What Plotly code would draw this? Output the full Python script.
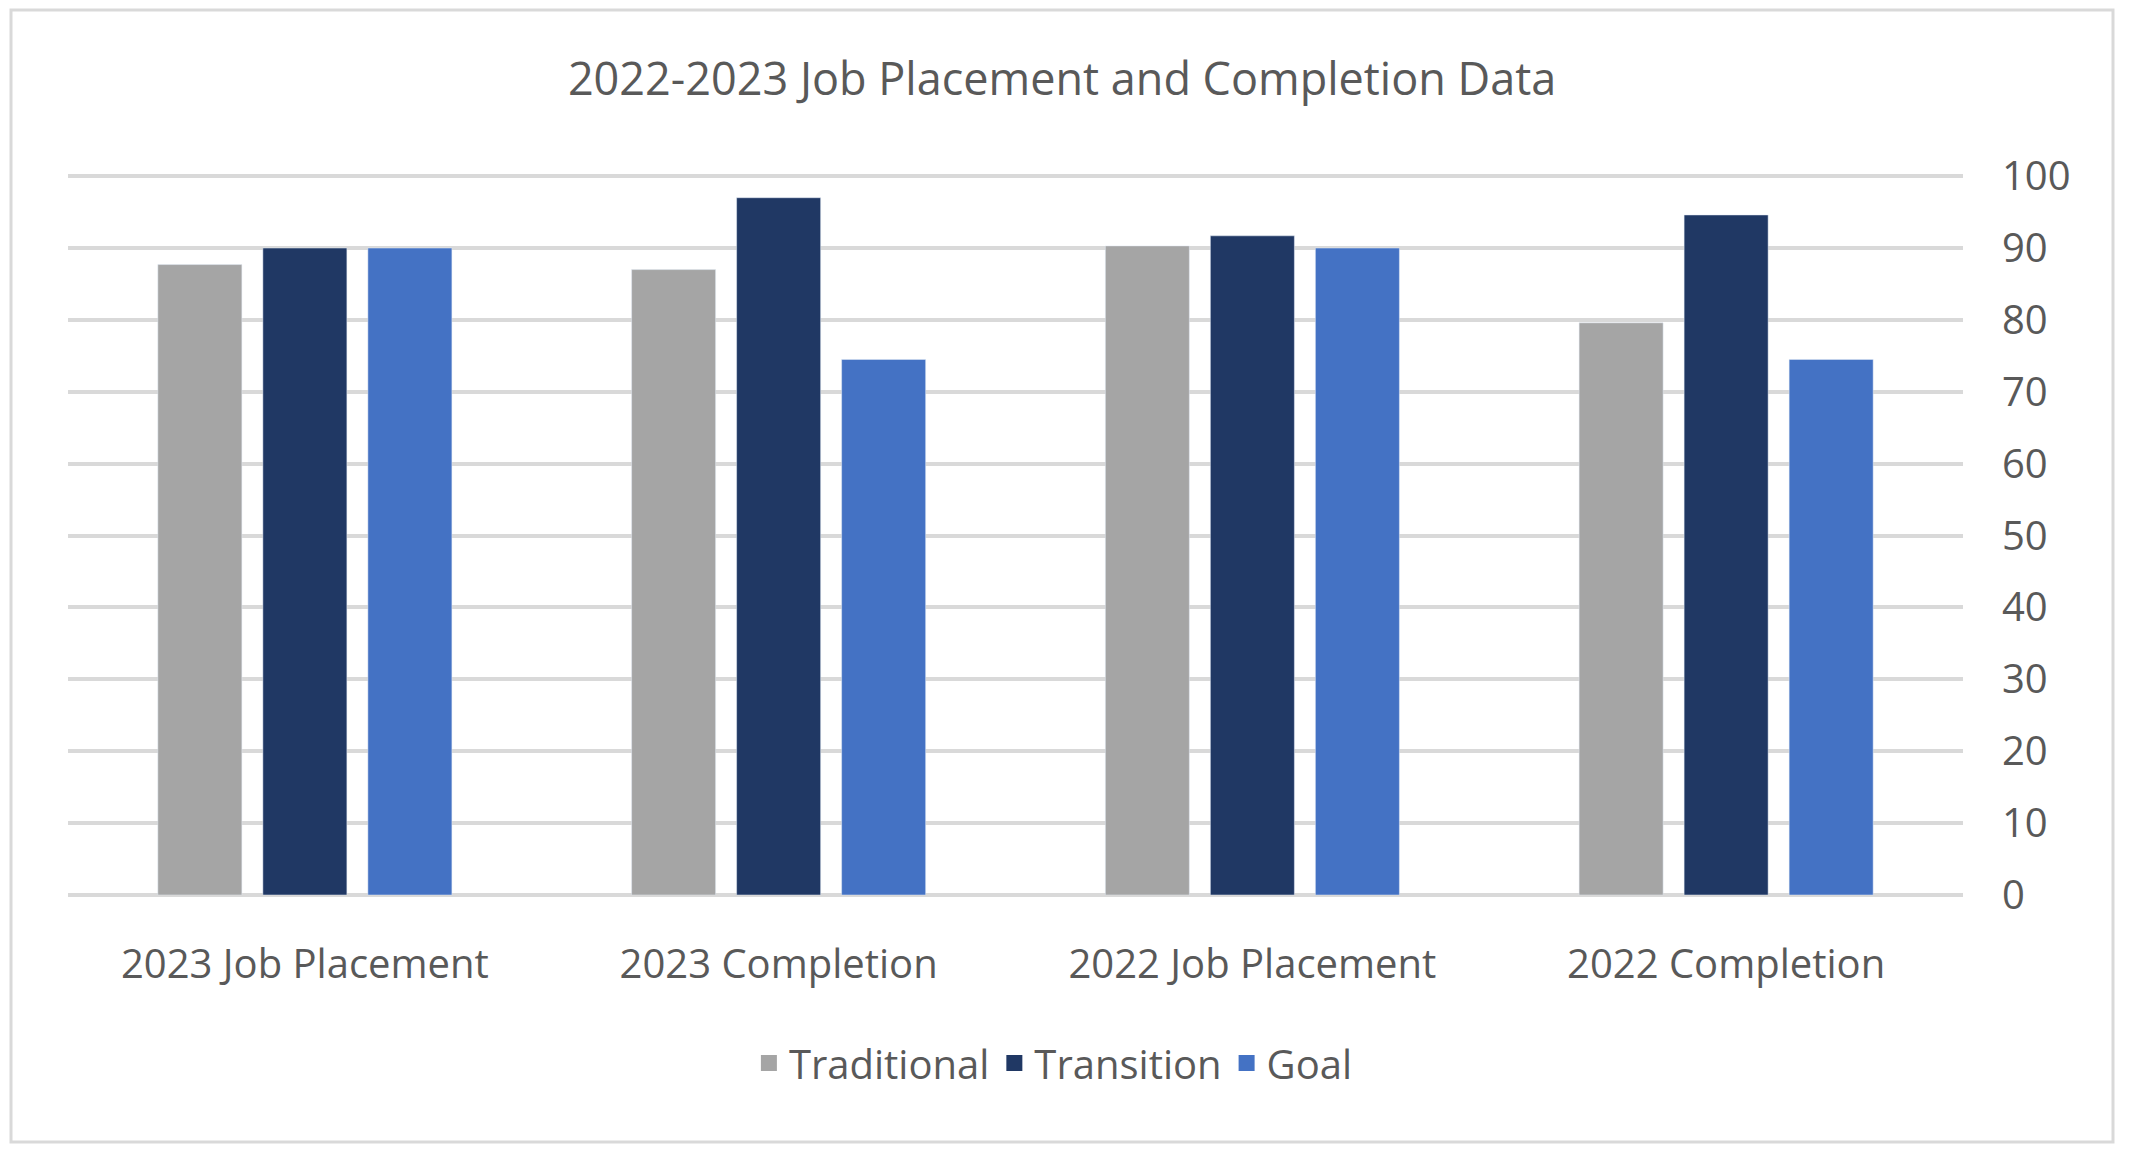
import plotly.graph_objects as go

categories = ["2023 Job Placement", "2023 Completion", "2022 Job Placement", "2022 Completion"]
traditional = [87.7, 87.0, 90.3, 79.6]
transition = [90, 97, 91.7, 94.6]
goal = [90, 74.5, 90, 74.5]
y_ticks = list(range(0, 101, 10))
series_names = ["Traditional", "Transition", "Goal"]
series_colors = ["#a5a5a5", "#203864", "#4472c4"]

FONT = "Open Sans"
TXT = "#595959"

fig = go.Figure()
for name, vals, col in zip(series_names, [traditional, transition, goal], series_colors):
    fig.add_trace(go.Bar(name=name, x=categories, y=vals, marker_color=col, showlegend=False))
for name, col in zip(series_names, series_colors):
    fig.add_trace(go.Scatter(name=name, x=[None], y=[None], mode="markers",
                             marker=dict(symbol="square", size=16, color=col), showlegend=True))

fig.update_layout(
    width=2137, height=1153,
    paper_bgcolor="white", plot_bgcolor="white",
    margin=dict(l=68, r=174, t=174, b=258),
    barmode="group", bargap=0.335, bargroupgap=0.2,
    font=dict(family=FONT, color=TXT, size=40),
    title=dict(text="2022-2023 Job Placement and Completion Data", x=0.497, xanchor="center",
               y=1 - 79 / 1153, yanchor="middle", yref="container",
               font=dict(family=FONT, size=45, color=TXT)),
    legend=dict(orientation="h", x=0.52, xanchor="center", y=-0.233, yanchor="middle",
                font=dict(family=FONT, size=40, color=TXT), itemwidth=30, traceorder="normal"),
    showlegend=True,
)
fig.update_xaxes(showgrid=False, showline=False, ticks="", ticklabelstandoff=42,
                 tickfont=dict(family=FONT, size=40, color=TXT))
fig.update_yaxes(side="right", range=[0, 100.3], tickvals=y_ticks, showgrid=True,
                 gridcolor="#d9d9d9", gridwidth=4, zeroline=True, zerolinecolor="#d9d9d9",
                 zerolinewidth=4, showline=False, ticks="", ticklabelstandoff=38,
                 tickfont=dict(family=FONT, size=40, color=TXT))

fig.add_shape(type="rect", xref="paper", yref="paper",
              x0=(11 - 68) / 1895, x1=(2113 - 68) / 1895,
              y0=(895 - 1142) / 721, y1=(895 - 10) / 721,
              line=dict(color="#d9d9d9", width=3), fillcolor="rgba(0,0,0,0)", layer="below")

fig.write_html("out.html")
